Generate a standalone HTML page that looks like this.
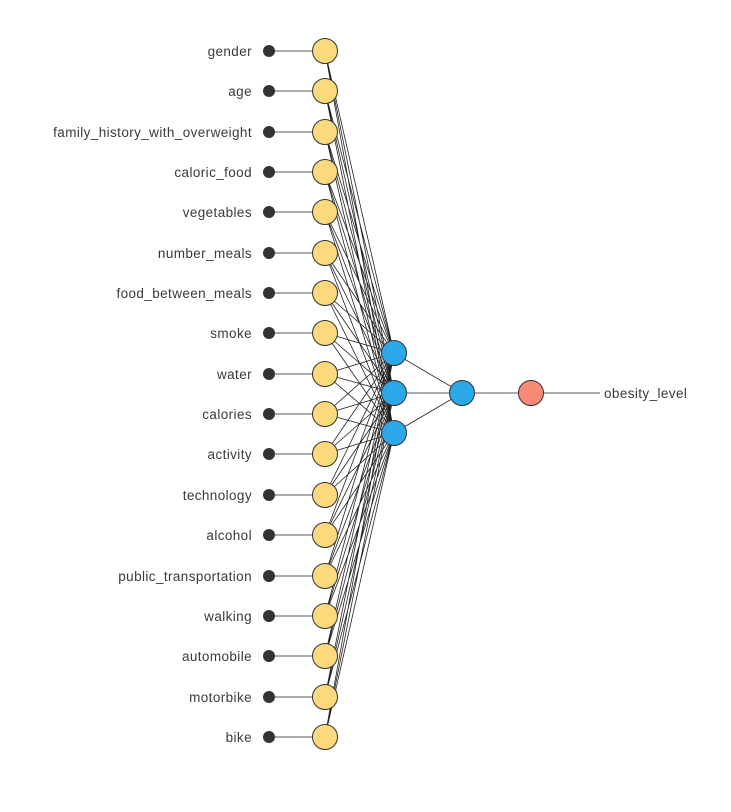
<!DOCTYPE html>
<html><head><meta charset="utf-8"><style>
body{margin:0;background:#fff}
text{font-family:"Liberation Sans",sans-serif;font-size:13.5px;fill:#3a3a3a;letter-spacing:0.4px}
</style></head><body>
<svg width="731" height="807" xmlns="http://www.w3.org/2000/svg">
<g stroke="#222" stroke-width="0.8">
<path d="M325 51L394 353M325 51L394 393M325 51L394 433
M325 91L394 353M325 91L394 393M325 91L394 433
M325 132L394 353M325 132L394 393M325 132L394 433
M325 172L394 353M325 172L394 393M325 172L394 433
M325 212L394 353M325 212L394 393M325 212L394 433
M325 253L394 353M325 253L394 393M325 253L394 433
M325 293L394 353M325 293L394 393M325 293L394 433
M325 333L394 353M325 333L394 393M325 333L394 433
M325 374L394 353M325 374L394 393M325 374L394 433
M325 414L394 353M325 414L394 393M325 414L394 433
M325 454L394 353M325 454L394 393M325 454L394 433
M325 495L394 353M325 495L394 393M325 495L394 433
M325 535L394 353M325 535L394 393M325 535L394 433
M325 576L394 353M325 576L394 393M325 576L394 433
M325 616L394 353M325 616L394 393M325 616L394 433
M325 656L394 353M325 656L394 393M325 656L394 433
M325 697L394 353M325 697L394 393M325 697L394 433
M325 737L394 353M325 737L394 393M325 737L394 433
M394 353L462 393M394 393L462 393M394 433L462 393M462 393L531 393M531 393L600 393"/>
<path d="M269 51H325M269 91H325M269 132H325M269 172H325M269 212H325M269 253H325M269 293H325M269 333H325M269 374H325M269 414H325M269 454H325M269 495H325M269 535H325M269 576H325M269 616H325M269 656H325M269 697H325M269 737H325"/>
</g>
<g fill="#333">
<circle cx="269" cy="51" r="6"/><circle cx="269" cy="91" r="6"/><circle cx="269" cy="132" r="6"/><circle cx="269" cy="172" r="6"/><circle cx="269" cy="212" r="6"/><circle cx="269" cy="253" r="6"/><circle cx="269" cy="293" r="6"/><circle cx="269" cy="333" r="6"/><circle cx="269" cy="374" r="6"/><circle cx="269" cy="414" r="6"/><circle cx="269" cy="454" r="6"/><circle cx="269" cy="495" r="6"/><circle cx="269" cy="535" r="6"/><circle cx="269" cy="576" r="6"/><circle cx="269" cy="616" r="6"/><circle cx="269" cy="656" r="6"/><circle cx="269" cy="697" r="6"/><circle cx="269" cy="737" r="6"/>
</g>
<g fill="#FDD97D" stroke="#333" stroke-width="1">
<circle cx="325" cy="51" r="12.5"/><circle cx="325" cy="91" r="12.5"/><circle cx="325" cy="132" r="12.5"/><circle cx="325" cy="172" r="12.5"/><circle cx="325" cy="212" r="12.5"/><circle cx="325" cy="253" r="12.5"/><circle cx="325" cy="293" r="12.5"/><circle cx="325" cy="333" r="12.5"/><circle cx="325" cy="374" r="12.5"/><circle cx="325" cy="414" r="12.5"/><circle cx="325" cy="454" r="12.5"/><circle cx="325" cy="495" r="12.5"/><circle cx="325" cy="535" r="12.5"/><circle cx="325" cy="576" r="12.5"/><circle cx="325" cy="616" r="12.5"/><circle cx="325" cy="656" r="12.5"/><circle cx="325" cy="697" r="12.5"/><circle cx="325" cy="737" r="12.5"/>
</g>
<g fill="#2BA8E8" stroke="#333" stroke-width="1">
<circle cx="394" cy="353" r="12.5"/><circle cx="394" cy="393" r="12.5"/><circle cx="394" cy="433" r="12.5"/><circle cx="462" cy="393" r="12.5"/>
</g>
<circle cx="531" cy="393" r="12.5" fill="#FA8A78" stroke="#333" stroke-width="1"/>
<g text-anchor="end">
<text x="252" y="56">gender</text><text x="252" y="96">age</text><text x="252" y="137">family_history_with_overweight</text><text x="252" y="177">caloric_food</text><text x="252" y="217">vegetables</text><text x="252" y="258">number_meals</text><text x="252" y="298">food_between_meals</text><text x="252" y="338">smoke</text><text x="252" y="379">water</text><text x="252" y="419">calories</text><text x="252" y="459">activity</text><text x="252" y="500">technology</text><text x="252" y="540">alcohol</text><text x="252" y="581">public_transportation</text><text x="252" y="621">walking</text><text x="252" y="661">automobile</text><text x="252" y="702">motorbike</text><text x="252" y="742">bike</text>
</g>
<text x="604" y="398">obesity_level</text>
</svg>
</body></html>
